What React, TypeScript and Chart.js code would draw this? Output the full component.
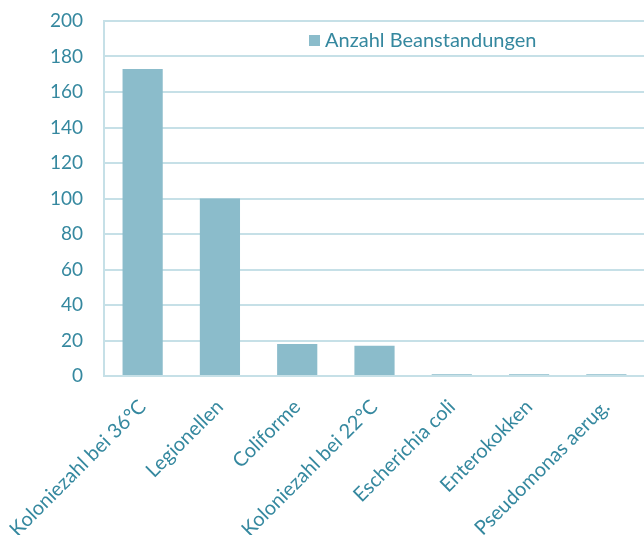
import React, { useEffect, useRef } from "react";
import { Chart, registerables } from "chart.js";

Chart.register(...registerables);

const categories = [
  "Koloniezahl bei 36°C",
  "Legionellen",
  "Coliforme",
  "Koloniezahl bei 22°C",
  "Escherichia coli",
  "Enterokokken",
  "Pseudomonas aerug.",
];
const seriesLabel = "Anzahl Beanstandungen";
const values = [173, 100, 18, 17, 1, 1, 1];
const yMax = 200;
const yStep = 20;

const TEXT = "#35889f";
const BAR = "#8bbccb";
const GRID = "#c6e0e7";
const FONT = "Lato, 'Open Sans', sans-serif";

const legendPlugin = {
  id: "innerLegend",
  afterDraw(chart: any) {
    const ctx = chart.ctx;
    const ds = chart.data.datasets[0];
    ctx.save();
    const x = 309;
    const y = 41;
    ctx.fillStyle = ds.backgroundColor;
    ctx.fillRect(x, y - 6, 11, 11);
    ctx.font = `20px ${FONT}`;
    ctx.fillStyle = TEXT;
    ctx.textBaseline = "middle";
    ctx.textAlign = "left";
    ctx.fillText(ds.label, x + 16, y);
    ctx.restore();
  },
};

export default function App() {
  const ref = useRef<HTMLCanvasElement | null>(null);
  useEffect(() => {
    document.body.style.overflow = "hidden";
    const chart = new Chart(ref.current as HTMLCanvasElement, {
      type: "bar",
      data: {
        labels: categories,
        datasets: [
          {
            label: seriesLabel,
            data: values,
            backgroundColor: BAR,
            borderWidth: 0,
            barPercentage: 0.52,
            categoryPercentage: 1,
          },
        ],
      },
      plugins: [legendPlugin],
      options: {
        animation: false,
        responsive: false,
        maintainAspectRatio: false,
        layout: { padding: { top: 21, left: 0, right: 0, bottom: 0 } },
        plugins: {
          legend: { display: false },
          tooltip: { enabled: false },
        },
        scales: {
          x: {
            grid: { display: false, drawTicks: false },
            border: { display: true, color: GRID, width: 2 },
            ticks: {
              color: TEXT,
              font: { family: FONT, size: 20 },
              maxRotation: 45,
              minRotation: 45,
              autoSkip: false,
              padding: 19,
            },
            afterFit: (s: any) => {
              s.height = 159;
              s.paddingLeft = 0;
              s.paddingRight = 0;
              s.paddingTop = 0;
              s.paddingBottom = 0;
            },
          },
          y: {
            min: 0,
            max: yMax,
            grid: { color: GRID, lineWidth: 2, drawTicks: false },
            border: { display: true, color: GRID, width: 2 },
            ticks: {
              stepSize: yStep,
              color: TEXT,
              font: { family: FONT, size: 19 },
              padding: 21,
            },
            afterFit: (s: any) => {
              s.width = 104;
              s.paddingLeft = 0;
              s.paddingRight = 0;
              s.paddingTop = 0;
              s.paddingBottom = 0;
            },
          },
        },
      },
    });
    return () => chart.destroy();
  }, []);
  return (
    <div style={{ position: "fixed", left: 0, top: 0, width: 645, height: 535 }}>
      <canvas ref={ref} width={645} height={535} style={{ display: "block" }} />
    </div>
  );
}
